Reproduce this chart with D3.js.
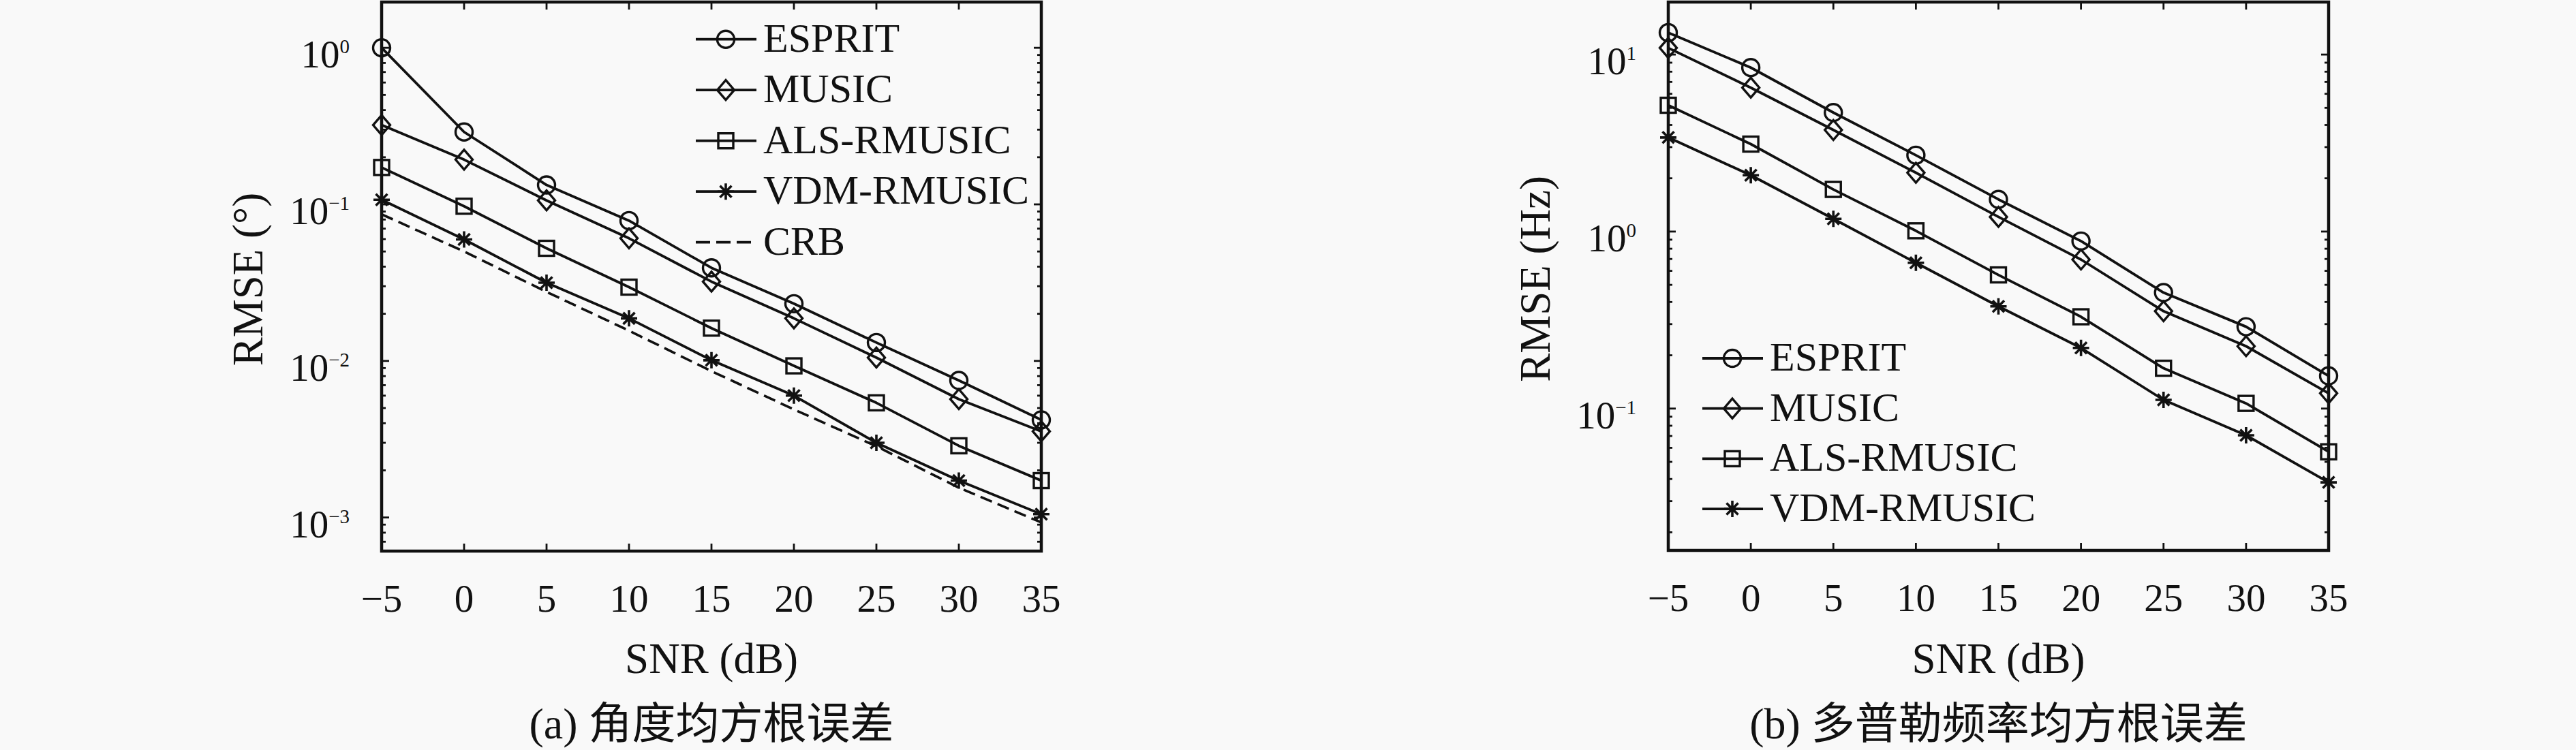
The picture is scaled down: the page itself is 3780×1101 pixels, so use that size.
<!DOCTYPE html>
<html><head><meta charset="utf-8">
<script src="https://cdn.jsdelivr.net/npm/d3@7"></script>
<style>body{margin:0;background:#f9f9f9} svg{display:block}</style>
</head><body>
<svg id="chart" width="3780" height="1101"></svg>
<script>
// ---------- data ----------
const snr = [-5, 0, 5, 10, 15, 20, 25, 30, 35];
const xTickValues = [-5, 0, 5, 10, 15, 20, 25, 30, 35];
const seriesNames = ["ESPRIT", "MUSIC", "ALS-RMUSIC", "VDM-RMUSIC"];
const seriesMarkers = ["circle", "diamond", "square", "star"];
const crbName = "CRB";

const angleESPRIT = [1.0, 0.29, 0.133, 0.0787, 0.0393, 0.0232, 0.0131, 0.0075, 0.0042];
const angleMUSIC  = [0.321, 0.193, 0.106, 0.0607, 0.0321, 0.0187, 0.0105, 0.0057, 0.00355];
const angleALS    = [0.172, 0.0973, 0.0524, 0.0296, 0.0162, 0.0093, 0.0054, 0.00287, 0.00172];
const angleVDM    = [0.107, 0.0597, 0.0316, 0.0187, 0.0101, 0.0060, 0.0030, 0.00172, 0.00105];
const angleCRB    = [0.0864, 0.050, 0.0276, 0.0156, 0.0086, 0.0049, 0.00285, 0.00155, 0.00093];

const freqESPRIT = [13.3, 8.44, 4.70, 2.70, 1.52, 0.884, 0.452, 0.290, 0.153];
const freqMUSIC  = [10.9, 6.5, 3.75, 2.15, 1.21, 0.695, 0.355, 0.225, 0.122];
const freqALS    = [5.17, 3.12, 1.73, 1.01, 0.569, 0.33, 0.169, 0.107, 0.057];
const freqVDM    = [3.4, 2.08, 1.18, 0.666, 0.378, 0.22, 0.112, 0.0706, 0.0383];

const yDomainA = [6.1e-4, 1.96];
const yDomainB = [0.0158, 19.8];
const yTickExpA = [0, -1, -2, -3];
const yTickExpB = [1, 0, -1];

const xLabel = "SNR (dB)";
const yLabelA = "RMSE (°)";
const yLabelB = "RMSE (Hz)";
const captionA = "(a) 角度均方根误差";
const captionB = "(b) 多普勒频率均方根误差";

// ---------- drawing ----------
const svg = d3.select("#chart");
svg.append("rect").attr("width", 3780).attr("height", 1101).attr("fill", "#f9f9f9");
const FONT = "'Liberation Serif', 'Times New Roman', 'Noto Sans CJK SC', serif";
const INK = "#111";

function drawMarker(g, type, x, y) {
  const s = g.append("g").attr("transform", `translate(${x},${y})`)
    .attr("fill", "none").attr("stroke", INK).attr("stroke-width", 3.4);
  if (type === "circle") s.append("circle").attr("r", 12.5);
  else if (type === "diamond") s.append("path").attr("d", "M0,-14.5L12.5,0L0,14.5L-12.5,0Z");
  else if (type === "square") s.append("rect").attr("x", -11).attr("y", -11).attr("width", 22).attr("height", 22);
  else if (type === "star") {
    const r = 12, d = 8.5;
    s.append("path").attr("d", `M0,${-r}V${r}M${-r},0H${r}M${-d},${-d}L${d},${d}M${-d},${d}L${d},${-d}`)
      .attr("stroke-width", 3.6);
  }
}

function panel(cfg) {
  const g = svg.append("g");
  const x = d3.scaleLinear().domain([-5, 35]).range([cfg.x0, cfg.x1]);
  const y = d3.scaleLog().domain(cfg.yDomain).range([cfg.yBot, cfg.yTop]);

  // ticks inside the box
  const tg = g.append("g").attr("stroke", INK).attr("stroke-width", 2.8);
  xTickValues.forEach(v => {
    const px = x(v);
    tg.append("line").attr("x1", px).attr("x2", px).attr("y1", cfg.yBot).attr("y2", cfg.yBot - 11);
    tg.append("line").attr("x1", px).attr("x2", px).attr("y1", cfg.yTop).attr("y2", cfg.yTop + 11);
  });
  y.ticks().forEach(v => {
    const py = y(v);
    const major = Math.abs(Math.log10(v) - Math.round(Math.log10(v))) < 1e-9;
    const len = major ? 11 : 6;
    tg.append("line").attr("x1", cfg.x0).attr("x2", cfg.x0 + len).attr("y1", py).attr("y2", py);
    tg.append("line").attr("x1", cfg.x1).attr("x2", cfg.x1 - len).attr("y1", py).attr("y2", py);
  });

  // x tick labels
  xTickValues.forEach(v => {
    g.append("text").attr("x", x(v)).attr("y", cfg.yBot + 89)
      .attr("text-anchor", "middle").attr("font-family", FONT).attr("font-size", 57).attr("fill", INK)
      .text(v < 0 ? "\u2212" + Math.abs(v) : String(v));
  });
  // y tick labels 10^e
  cfg.yExp.forEach(e => {
    const t = g.append("text").attr("x", cfg.x0 - 47).attr("y", y(Math.pow(10, e)) + 29)
      .attr("text-anchor", "end").attr("font-family", FONT).attr("font-size", 57).attr("fill", INK);
    t.append("tspan").text("10");
    t.append("tspan").attr("dy", -21).attr("font-size", 29).text(e < 0 ? "\u2212" + Math.abs(e) : String(e));
  });

  // series
  const line = d3.line().x((d, i) => x(snr[i])).y(d => y(d));
  if (cfg.crb) {
    g.append("path").attr("d", line(cfg.crb)).attr("fill", "none").attr("stroke", INK)
      .attr("stroke-width", 3.6).attr("stroke-dasharray", "18,9");
  }
  cfg.series.forEach((vals, k) => {
    g.append("path").attr("d", line(vals)).attr("fill", "none").attr("stroke", INK)
      .attr("stroke-width", 3.8).attr("stroke-linejoin", "round");
    vals.forEach((v, i) => drawMarker(g, seriesMarkers[k], x(snr[i]), y(v)));
  });

  // frame
  g.append("rect").attr("x", cfg.x0).attr("y", cfg.yTop).attr("width", cfg.x1 - cfg.x0)
    .attr("height", cfg.yBot - cfg.yTop).attr("fill", "none").attr("stroke", INK).attr("stroke-width", 4.5);

  // legend
  const L = cfg.legend;
  const names = seriesNames.slice();
  if (cfg.crb) names.push(crbName);
  names.forEach((name, k) => {
    const ly = L.y0 + k * L.dy;
    const ln = g.append("line").attr("x1", L.x0).attr("x2", L.x0 + 89).attr("y1", ly).attr("y2", ly)
      .attr("stroke", INK).attr("stroke-width", 3.8);
    if (k < seriesNames.length) drawMarker(g, seriesMarkers[k], L.x0 + 44, ly);
    else ln.attr("stroke-dasharray", "21,9");
    g.append("text").attr("x", L.x0 + 99).attr("y", ly + 18).attr("font-family", FONT)
      .attr("font-size", 60).attr("fill", INK).text(name);
  });

  // axis titles
  const cx = (cfg.x0 + cfg.x1) / 2;
  g.append("text").attr("x", cx).attr("y", 988).attr("text-anchor", "middle")
    .attr("font-family", FONT).attr("font-size", 63).attr("fill", INK).text(xLabel);
  g.append("text").attr("transform", `translate(${cfg.yTitleX},${(cfg.yTop + cfg.yBot) / 2 + 4}) rotate(-90)`)
    .attr("text-anchor", "middle").attr("font-family", FONT).attr("font-size", 63).attr("fill", INK)
    .text(cfg.yLabel);
  g.append("text").attr("x", cx).attr("y", 1084).attr("text-anchor", "middle")
    .attr("font-family", FONT).attr("font-size", 64).attr("fill", INK).text(cfg.caption);
}

panel({
  x0: 560, x1: 1528, yTop: 3, yBot: 809, yDomain: yDomainA, yExp: yTickExpA,
  series: [angleESPRIT, angleMUSIC, angleALS, angleVDM], crb: angleCRB,
  legend: { x0: 1021, y0: 57.7, dy: 74.5 },
  yTitleX: 385, yLabel: yLabelA, caption: captionA
});
panel({
  x0: 2448, x1: 3417, yTop: 3, yBot: 808, yDomain: yDomainB, yExp: yTickExpB,
  series: [freqESPRIT, freqMUSIC, freqALS, freqVDM], crb: null,
  legend: { x0: 2498, y0: 526, dy: 73.7 },
  yTitleX: 2274, yLabel: yLabelB, caption: captionB
});
</script>
</body></html>
